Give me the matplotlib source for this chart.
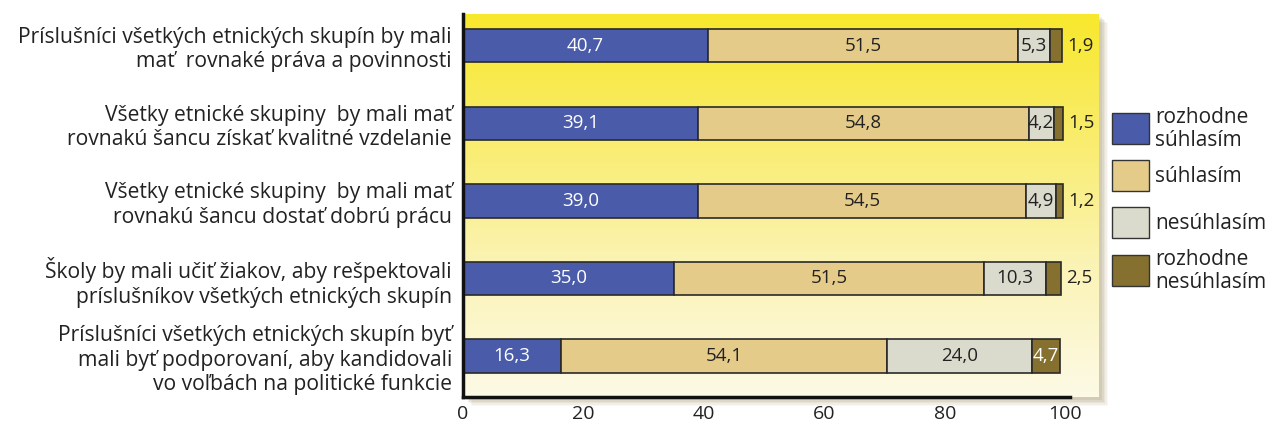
import numpy as np
import matplotlib.pyplot as plt
from matplotlib.patches import Rectangle
from matplotlib.colors import LinearSegmentedColormap

plt.rcParams['font.family'] = ['Open Sans', 'DejaVu Sans']

# data
statements = [
    "Príslušníci všetkých etnických skupín by mali\nmať  rovnaké práva a povinnosti",
    "Všetky etnické skupiny  by mali mať\nrovnakú šancu získať kvalitné vzdelanie",
    "Všetky etnické skupiny  by mali mať\nrovnakú šancu dostať dobrú prácu",
    "Školy by mali učiť žiakov, aby rešpektovali\npríslušníkov všetkých etnických skupín",
    "Príslušníci všetkých etnických skupín byť\nmali byť podporovaní, aby kandidovali\nvo voľbách na politické funkcie",
]
rozhodne_suhlasim = [40.7, 39.1, 39.0, 35.0, 16.3]
suhlasim = [51.5, 54.8, 54.5, 51.5, 54.1]
nesuhlasim = [5.3, 4.2, 4.9, 10.3, 24.0]
rozhodne_nesuhlasim = [1.9, 1.5, 1.2, 2.5, 4.7]
series_names = ['rozhodne\nsúhlasím', 'súhlasím', 'nesúhlasím', 'rozhodne\nnesúhlasím']
x_ticks = [0, 20, 40, 60, 80, 100]

colors = ['#4a5ca9', '#e4cb89', '#dadacd', '#85702f']
text_colors = ['white', '#222222', '#222222', 'white']

W, H = 1272, 429
fig = plt.figure(figsize=(W / 100, H / 100), dpi=100)
ax = fig.add_axes([463 / W, 32 / H, 636 / W, 383 / H])

# soft shadow behind the plot area (figure pixels)
for i, a in enumerate([0.05, 0.07, 0.09, 0.11, 0.13]):
    off = 9 - i * 1.5
    r = Rectangle(((463 + off) / W, (32 - off) / H), 636 / W, 383 / H,
                  transform=fig.transFigure, facecolor='#8a7640', alpha=a,
                  edgecolor='none', zorder=-5)
    fig.patches.append(r)

# yellow gradient background
cmap = LinearSegmentedColormap.from_list(
    'bg', [(0.0, '#fdfae6'), (0.35, '#fbf3b4'), (0.7, '#f9ec68'), (1.0, '#f8e82c')])
grad = np.linspace(0, 1, 256).reshape(-1, 1)
ax.imshow(grad, extent=[0, 1, 0, 1], transform=ax.transAxes, aspect='auto',
          cmap=cmap, origin='lower', zorder=0)

y = np.arange(len(statements))
series = [rozhodne_suhlasim, suhlasim, nesuhlasim, rozhodne_nesuhlasim]
left = np.zeros(len(statements))
for k, vals in enumerate(series):
    vals = np.array(vals)
    ax.barh(y, vals, left=left, height=0.43, color=colors[k],
            edgecolor='#2a2a2a', linewidth=1.2, zorder=2)
    for i, v in enumerate(vals):
        txt = f"{v:.1f}".replace('.', ',')
        if k == 3 and v < 3:
            ax.text(left[i] + v + 0.9, y[i], txt, ha='left', va='center',
                    fontsize=13.5, color='#222222', zorder=3)
        else:
            ax.text(left[i] + v / 2, y[i], txt, ha='center', va='center',
                    fontsize=13.5, color=text_colors[k], zorder=3)
    left += vals

ax.set_xlim(0, 105.6)
ax.set_ylim(4.53, -0.41)
ax.set_xticks(x_ticks)
ax.set_xticklabels([str(t) for t in x_ticks], fontsize=14)
ax.set_yticks(y)
ax.set_yticklabels(statements, fontsize=15.2, linespacing=1.2, ha='right')
ax.tick_params(axis='both', length=0, colors='#222222')
ax.tick_params(axis='x', pad=6)
ax.tick_params(axis='y', pad=8)

for s in ['top', 'right']:
    ax.spines[s].set_visible(False)
for s in ['left', 'bottom']:
    ax.spines[s].set_linewidth(2.5)
    ax.spines[s].set_color('#111111')
ax.spines['bottom'].set_bounds(0, 100.8)

# legend drawn by hand to keep equal spacing
leg_tops = [113, 160, 207, 255]
for k, name in enumerate(series_names):
    top = leg_tops[k]
    fig.patches.append(Rectangle((1112 / W, 1 - (top + 31) / H), 37 / W, 31 / H,
                                 transform=fig.transFigure, facecolor=colors[k],
                                 edgecolor='#333333', linewidth=1.0))
    fig.text(1155 / W, 1 - (top + 16) / H, name, ha='left', va='center',
             fontsize=15, color='#222222', linespacing=1.1)

fig.savefig('out.png', dpi=100)
